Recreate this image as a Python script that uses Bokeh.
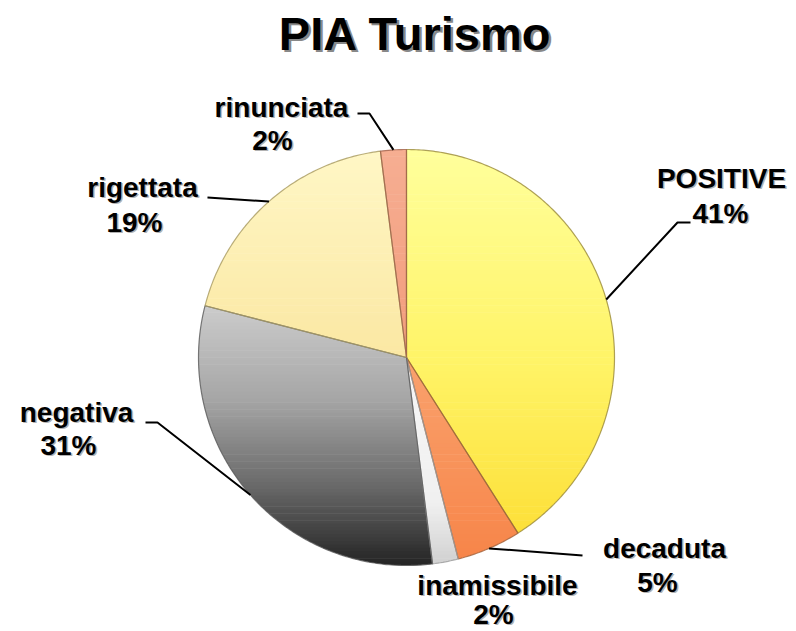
import math
from bokeh.plotting import figure
from bokeh.models import Range1d
from bokeh.core.properties import value
from bokeh.embed import file_html
from bokeh.resources import INLINE

# ---------------- data ----------------
title_text = "PIA Turismo"
categories = ["POSITIVE", "decaduta", "inamissibile", "negativa", "rigettata", "rinunciata"]
percents = [41, 5, 2, 31, 19, 2]

# ---------------- styles ----------------
# vertical gradient stops: (fraction of pie height from top, colour)
gradients = [
    [(0.0, "#FFFF9C"), (0.5, "#FFF468"), (1.0, "#FCDC30")],
    [(0.0, "#FCC0A0"), (0.6, "#F99C66"), (1.0, "#F78448")],
    [(0.0, "#FFFFFF"), (0.85, "#F0F0F0"), (1.0, "#D0D0D0")],
    [(0.0, "#EEEEEE"), (0.38, "#CBCBCB"), (0.6, "#A6A6A6"), (0.8, "#6C6C6C"), (1.0, "#242424")],
    [(0.0, "#FFF7C6"), (0.45, "#FBE9A6"), (1.0, "#F6DD90")],
    [(0.0, "#F6AE92"), (0.5, "#F29C7C"), (1.0, "#EC8864")],
]
edge_colors = ["#9A8A3A", "#A0603A", "#9A9A9A", "#5A5A5A", "#A89A60", "#A0604A"]

W, H = 796, 631
FONT = value("Liberation Sans")
LABEL_SIZE = 28
TITLE_SIZE = 47
BASE_FIX = 0.37  # em shift to put the glyph baseline where wanted


def X(px):
    return px


def Y(py):
    return H - py


CX, CY, R = X(406), Y(357), 208

# label layout (screen px): (x, baseline) for name line and percent line
label_pos = [
    ((721, 188), (720, 223)),
    ((664, 558), (657, 592)),
    ((497, 595), (493, 624)),
    ((76, 422), (68, 455)),
    ((142, 197), (134, 232)),
    ((281, 117), (272, 150)),
]
# leader elbows (screen px); "RIM" marks the slice mid-angle on the rim
leaders = [
    ["RIM", (677, 222), (690, 222)],
    ["RIM", (582, 555)],
    None,
    [(145, 422), (157, 422), "RIM"],
    [(207, 197), "RIM"],
    [(357, 113), (369, 113), "RIM"],
]


def hex2rgb(h):
    h = h.lstrip("#")
    return tuple(int(h[i:i + 2], 16) for i in (0, 2, 4))


def color_at(stops, t):
    for (t0, c0), (t1, c1) in zip(stops[:-1], stops[1:]):
        if t <= t1:
            f = 0 if t1 == t0 else (t - t0) / (t1 - t0)
            a, b = hex2rgb(c0), hex2rgb(c1)
            return "#%02x%02x%02x" % tuple(int(round(a[k] + f * (b[k] - a[k]))) for k in range(3))
    return stops[-1][1]


def rim_point(a):
    return (CX + R * math.sin(a), CY + R * math.cos(a))


def clip_y(poly, c, keep_above):
    out = []
    n = len(poly)
    for i in range(n):
        p = poly[i]
        q = poly[(i + 1) % n]
        pin = p[1] >= c if keep_above else p[1] <= c
        qin = q[1] >= c if keep_above else q[1] <= c
        if pin:
            out.append(p)
        if pin != qin:
            t = (c - p[1]) / (q[1] - p[1])
            out.append((p[0] + t * (q[0] - p[0]), c))
    return out


p = figure(width=W, height=H, x_range=Range1d(0, W), y_range=Range1d(0, H),
           output_backend="svg", toolbar_location=None,
           x_axis_type=None, y_axis_type=None, min_border=0)
p.outline_line_color = None
p.background_fill_color = "white"

total = float(sum(percents))
cum = 0.0
slices = []
for i, v in enumerate(percents):
    a0 = cum / total * 2 * math.pi
    cum += v
    a1 = cum / total * 2 * math.pi
    n = max(6, int(math.degrees(a1 - a0) * 1.5))
    poly = [(CX, CY)] + [rim_point(a0 + (a1 - a0) * k / n) for k in range(n + 1)]
    slices.append((a0, a1, poly))

# gradient bands
nb = 120
yT, yB = CY + R, CY - R
h = (yT - yB) / nb
for i, (a0, a1, poly) in enumerate(slices):
    xs, ys, cols = [], [], []
    for b in range(nb):
        yhi = yT - b * h + 0.3
        ylo = yT - (b + 1) * h - 0.3
        part = clip_y(poly, yhi, False)
        if len(part) < 3:
            continue
        part = clip_y(part, ylo, True)
        if len(part) < 3:
            continue
        xs.append([q[0] for q in part])
        ys.append([q[1] for q in part])
        cols.append(color_at(gradients[i], (b + 0.5) / nb))
    p.patches(xs, ys, fill_color=cols, line_color=None)

# slice outlines
for i, (a0, a1, poly) in enumerate(slices):
    p.patch([q[0] for q in poly], [q[1] for q in poly], fill_color=None,
            line_color=edge_colors[i], line_width=1.2, line_alpha=0.8)

# leader lines
for i, (a0, a1, poly) in enumerate(slices):
    L = leaders[i]
    if not L:
        continue
    mid = rim_point((a0 + a1) / 2)
    pts = [mid if q == "RIM" else (X(q[0]), Y(q[1])) for q in L]
    p.line([q[0] for q in pts], [q[1] for q in pts], line_color="black", line_width=2)


def draw_text(txt, sx, sbase, size, shadow, shadow_color, shadow_alpha):
    y = Y(sbase - BASE_FIX * size)
    common = dict(text=[txt], text_font=FONT, text_font_style="bold",
                  text_font_size="%dpx" % size, text_align="center",
                  text_baseline="alphabetic")
    p.text([X(sx) + shadow], [y - shadow], text_color=shadow_color, text_alpha=shadow_alpha, **common)
    p.text([X(sx)], [y], text_color="black", **common)


# labels
for i, name in enumerate(categories):
    (x1, b1), (x2, b2) = label_pos[i]
    draw_text(name, x1, b1, LABEL_SIZE, 1.5, "#909090", 0.7)
    draw_text("%d%%" % percents[i], x2, b2, LABEL_SIZE, 1.5, "#909090", 0.7)

# title
draw_text(title_text, 415, 50, TITLE_SIZE, 2.5, "#888888", 1.0)

open("out.html", "w").write(file_html(p, INLINE))
